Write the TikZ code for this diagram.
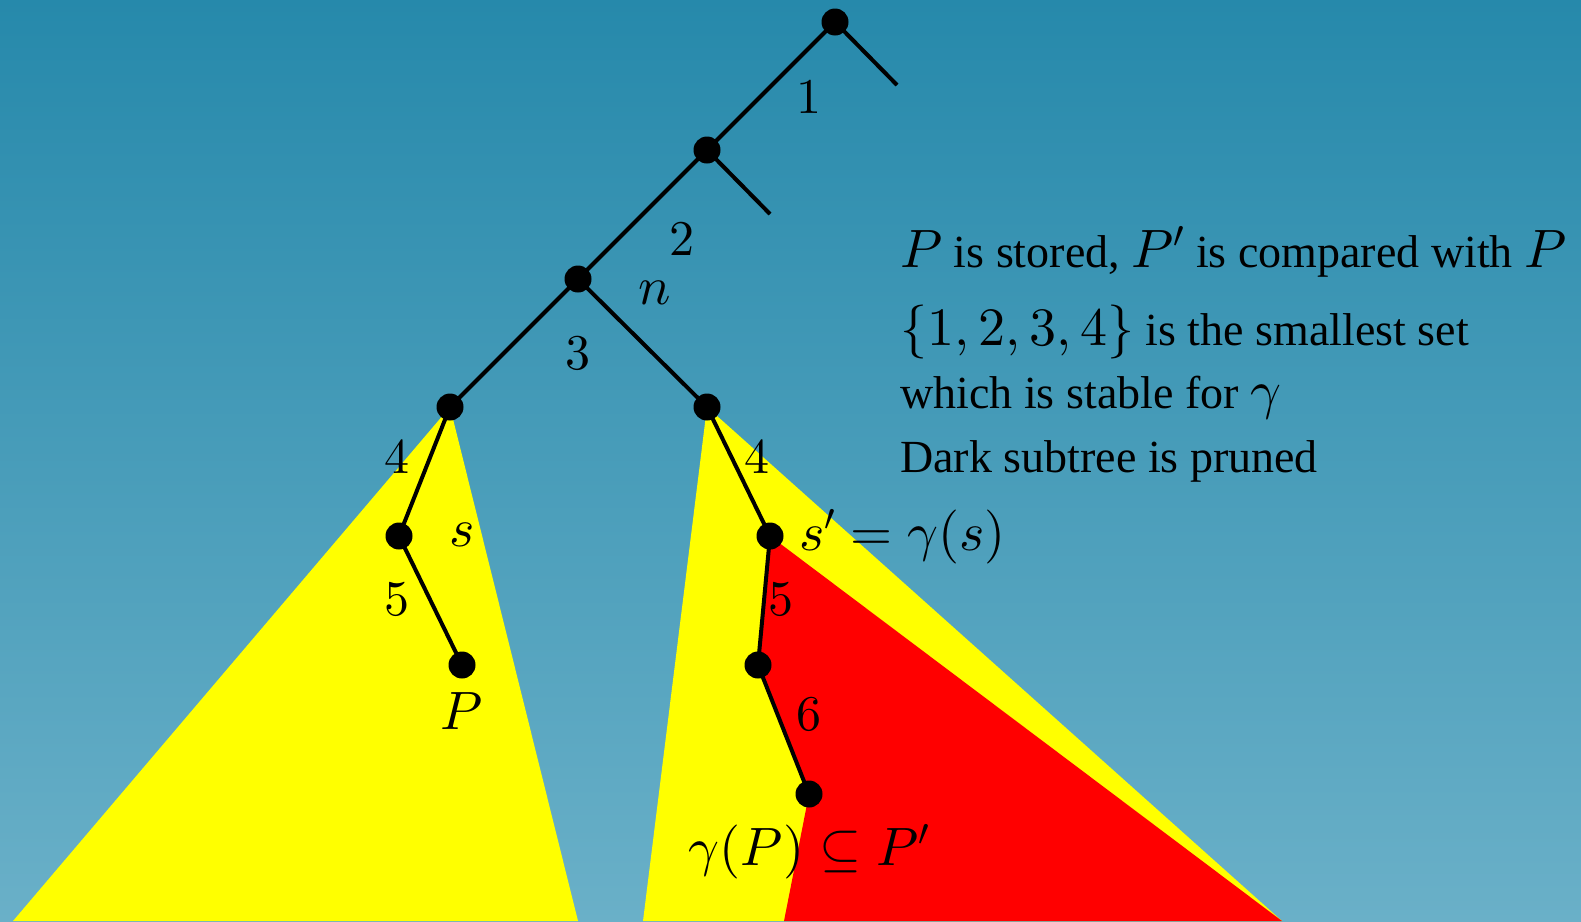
\documentclass[tikz,border=0pt]{standalone}
\usepackage[no-math]{fontspec}
\setmainfont{Liberation Serif}
\DeclareFontShape{OT1}{cmr}{m}{n}{<->cmr10}{}
\DeclareFontShape{OML}{cmm}{m}{it}{<->cmmi10}{}
\DeclareFontShape{OMS}{cmsy}{m}{n}{<->cmsy10}{}
\DeclareFontShape{OMX}{cmex}{m}{n}{<->cmex10}{}
\newcommand\mymth[1]{{\fontsize{54}{56}\selectfont$#1$}}
\pgfdeclarelayer{bg}
\pgfsetlayers{bg,main}
\definecolor{bgtop}{RGB}{38,137,171}
\definecolor{bgbot}{RGB}{106,176,200}
\definecolor{hlyellow}{RGB}{255,255,0}
\definecolor{hlred}{RGB}{255,0,0}
\begin{document}
\begin{tikzpicture}[x=1pt,y=-1pt,
  edge/.style={line width=4pt},
  dot/.style={circle,fill=black,inner sep=0pt,minimum size=27pt},
  elab/.style={font=\fontsize{50}{60}\selectfont, inner sep=0pt},
  mlab/.style={font=\fontsize{54}{66}\selectfont, inner sep=0pt},
  txt/.style={font=\fontsize{46}{56}\selectfont, anchor=base west, inner sep=0pt}]
\useasboundingbox (0,0) rectangle (1581,921);
% tree nodes
\node[dot] (A) at (835,22) {};
\coordinate (Aend) at (897,85);
\node[dot] (B) at (707,150) {};
\coordinate (Bend) at (770,214);
\node[dot] (C) at (578,279) {};
\node[dot] (D) at (450,407) {};
\node[dot] (E) at (707,407) {};
\node[dot] (F) at (399,536) {};
\node[dot] (G) at (462,665) {};
\node[dot] (H) at (770,536) {};
\node[dot] (I) at (758,665) {};
\node[dot] (J) at (809,794) {};
% corners of the coloured regions
\coordinate (yl1) at (13,921);
\coordinate (yl2) at (578,921);
\coordinate (yr1) at (643,921);
\coordinate (yr2) at (1282,921);
\coordinate (rd1) at (784,921);
\begin{pgfonlayer}{bg}
  \shade[top color=bgtop, bottom color=bgbot] (0,0) rectangle (1581,921);
  \fill[hlyellow] (D.center) -- (yl1) -- (yl2) -- cycle;
  \fill[hlyellow] (E.center) -- (yr1) -- (yr2) -- cycle;
  \fill[hlred] (H.center) -- (I.center) -- (J.center) -- (rd1) -- (yr2) -- cycle;
\end{pgfonlayer}
% edges
\draw[edge] (A.center) -- (Aend);
\draw[edge] (A.center) -- (B.center);
\draw[edge] (B.center) -- (Bend);
\draw[edge] (B.center) -- (C.center);
\draw[edge] (C.center) -- (D.center);
\draw[edge] (C.center) -- (E.center);
\draw[edge] (D.center) -- (F.center);
\draw[edge] (F.center) -- (G.center);
\draw[edge] (E.center) -- (H.center);
\draw[edge] (H.center) -- (I.center);
\draw[edge] (I.center) -- (J.center);
% edge labels
\node[elab] (l1) at (809,97) {$1$};
\node[elab] (l2) at (682,239) {$2$};
\node[elab] (l3) at (578,353) {$3$};
\node[elab] (l4a) at (397,457) {$4$};
\node[elab] (l4b) at (757,457) {$4$};
\node[elab] (l5a) at (397,599) {$5$};
\node[elab] (l5b) at (781,599) {$5$};
\node[elab] (l6) at (809,714) {$6$};
% other labels
\node[mlab] (ln) at (655,293) {$n$};
\node[mlab] (ls) at (462,535) {$s$};
\node[mlab] (lP) at (462,711) {$P$};
\node[mlab, anchor=west] (lsp) at (799,537) {$s'=\gamma(s)$};
\node[mlab] (lgp) at (809,852) {$\gamma(P)\subseteq P'$};
% text block
\node[txt] (t1) at (900,267) {\mymth{P} is stored, \mymth{P'} is compared with \mymth{P}};
\node[txt] (t2) at (900,345) {\mymth{\{1,2,3,4\}} is the smallest set};
\node[txt] (t3) at (900,408) {which is stable for \mymth{\gamma}};
\node[txt] (t4) at (900,472) {Dark subtree is pruned};
\end{tikzpicture}
\end{document}
